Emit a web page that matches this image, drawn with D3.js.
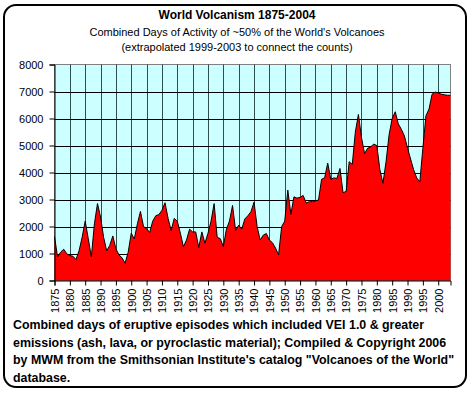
<!DOCTYPE html>
<html>
<head>
<meta charset="utf-8">
<script src="https://cdn.jsdelivr.net/npm/d3@7"></script>
<style>
  html, body { margin: 0; padding: 0; background: #ffffff; }
  svg { display: block; }
  text { font-family: Arial, "Liberation Sans", sans-serif; fill: #000; }
</style>
</head>
<body>
<svg id="chart" width="473" height="395"></svg>
<script>
// ---- Data ----
const years = d3.range(1875, 2005); // 1875..2004 categories
const activityDays = [
  1630, 870, 1050, 1160, 990, 920, 900, 780, 1100, 1600,   // 1875-1884
  2200, 1550, 870, 2100, 2850, 2350, 1600, 1100, 1300, 1650, // 1885-1894
  1170, 950, 840, 640, 1050, 1750, 1540, 2100, 2560, 2000,   // 1895-1904
  1920, 1780, 2200, 2400, 2440, 2600, 2880, 2300, 1850, 2300, // 1905-1914
  2200, 1750, 1250, 1500, 1900, 1800, 1800, 1220, 1800, 1380, // 1915-1924
  1750, 2200, 2850, 1600, 1550, 1250, 1900, 2200, 2780, 1850, // 1925-1934
  2050, 1900, 2280, 2400, 2550, 2900, 2000, 1500, 1680, 1740, // 1935-1944
  1500, 1400, 1200, 950, 2000, 2200, 3350, 2450, 3100, 3050,  // 1945-1954
  3080, 3150, 2870, 2920, 2920, 2950, 2980, 3750, 3800, 4350, // 1955-1964
  3750, 3800, 3780, 4150, 3250, 3300, 4400, 4300, 5500, 6150, // 1965-1974
  5300, 4700, 4900, 4950, 5050, 5000, 4100, 3600, 4400, 5400, // 1975-1984
  6000, 6250, 5800, 5600, 5350, 4900, 4500, 4100, 3800, 3650, // 1985-1994
  4900, 6100, 6350, 6900, 6980, 6950, 6900, 6880, 6860, 6860  // 1995-2004
];
const xTickYears = d3.range(1875, 2001, 5);
const yTickValues = d3.range(0, 8001, 1000);
const titleText = "World Volcanism 1875-2004";
const subtitleLines = [
  "Combined Days of Activity of ~50% of the World's Volcanoes",
  "(extrapolated 1999-2003 to connect the counts)"
];
const footerLines = [
  "Combined days of eruptive episodes which included VEI 1.0 & greater",
  "emissions (ash, lava, or pyroclastic material); Compiled & Copyright 2006",
  "by MWM from the Smithsonian Institute's catalog \"Volcanoes of the World\"",
  "database."
];

// ---- Layout ----
const svg = d3.select("#chart");
const pLeft = 54.5, pRight = 450.5, pTop = 64.5, pBottom = 280.5;

// outer rounded border
svg.append("rect")
  .attr("x", 4).attr("y", 5).attr("width", 462).attr("height", 382)
  .attr("rx", 12).attr("ry", 12)
  .attr("fill", "#fff").attr("stroke", "#000").attr("stroke-width", 2);

const x = d3.scaleLinear().domain([1875, 2004]).range([pLeft, pRight]);
const y = d3.scaleLinear().domain([0, 8000]).range([pBottom, pTop]);

// plot background
svg.append("rect")
  .attr("x", pLeft).attr("y", pTop)
  .attr("width", pRight - pLeft).attr("height", pBottom - pTop)
  .attr("fill", "#ccffff").attr("stroke", "#808080").attr("stroke-width", 1);

// vertical gridlines
svg.append("g").selectAll("line")
  .data(xTickYears.filter(v => v > 1875))
  .join("line")
  .attr("x1", d => Math.round(x(d)) + 0.5).attr("x2", d => Math.round(x(d)) + 0.5)
  .attr("y1", pTop).attr("y2", pBottom)
  .attr("stroke", "#2f4f4f").attr("stroke-width", 1);

// horizontal gridlines
svg.append("g").selectAll("line")
  .data(yTickValues.filter(v => v > 0 && v < 8000))
  .join("line")
  .attr("x1", pLeft).attr("x2", pRight)
  .attr("y1", d => Math.round(y(d)) + 0.5).attr("y2", d => Math.round(y(d)) + 0.5)
  .attr("stroke", "#000").attr("stroke-width", 1);

// area
const pts = years.map((yr, i) => ({ yr, v: activityDays[i] }));
svg.append("path")
  .datum(pts)
  .attr("d", d3.area().x(d => x(d.yr)).y0(y(0)).y1(d => y(d.v)))
  .attr("fill", "#ff0000");
svg.append("path")
  .datum(pts)
  .attr("d", d3.line().x(d => x(d.yr)).y(d => y(d.v)))
  .attr("fill", "none").attr("stroke", "#000").attr("stroke-width", 1);

// axes
const yAxis = svg.append("g")
  .attr("transform", `translate(${pLeft},0)`)
  .call(d3.axisLeft(y).tickValues(yTickValues).tickSize(5).tickPadding(6).tickFormat(d3.format("d")));
yAxis.select(".domain").attr("stroke", "#000");
yAxis.selectAll("text").style("font-size", "11px").style("font-family", "Arial, 'Liberation Sans', sans-serif");

const xAxis = svg.append("g")
  .attr("transform", `translate(0,${pBottom})`)
  .call(d3.axisBottom(x).tickValues(xTickYears).tickSize(5).tickFormat(d3.format("d")));
xAxis.select(".domain").attr("stroke", "#000");
xAxis.selectAll("text")
  .style("font-size", "11px").style("font-family", "Arial, 'Liberation Sans', sans-serif")
  .attr("transform", "rotate(-90)")
  .attr("text-anchor", "end")
  .attr("x", -8).attr("y", 0).attr("dy", "0.35em");

// titles
svg.append("text").attr("x", 237).attr("y", 19).attr("text-anchor", "middle")
  .style("font-size", "12px").style("font-weight", "bold").text(titleText);
svg.append("g").selectAll("text").data(subtitleLines).join("text")
  .attr("x", 237).attr("y", (d, i) => 36 + i * 15).attr("text-anchor", "middle")
  .style("font-size", "11px").text(d => d);

// footer
svg.append("g").selectAll("text").data(footerLines).join("text")
  .attr("x", 13).attr("y", (d, i) => 329 + i * 17.7)
  .style("font-size", "12.4px").style("font-weight", "bold").text(d => d);
</script>
</body>
</html>
